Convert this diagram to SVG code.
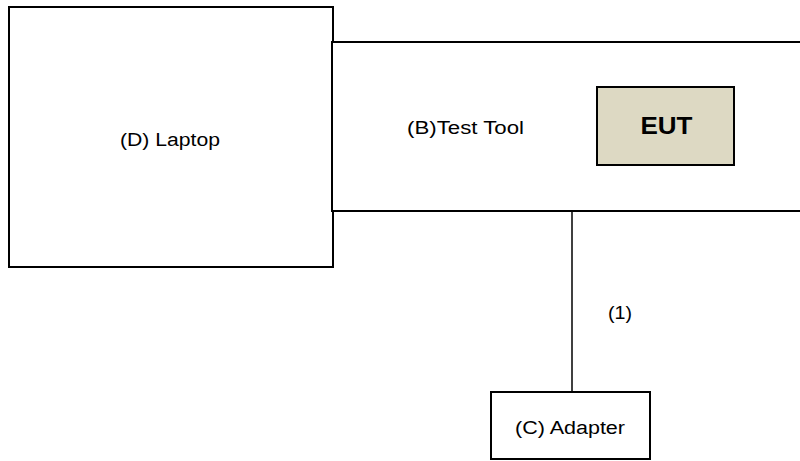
<svg xmlns="http://www.w3.org/2000/svg" width="800" height="461" viewBox="0 0 800 461">
<style>
.box{fill:#fff;stroke:#000;stroke-width:2}
.lbl{font-family:"Liberation Sans",Arial,sans-serif;font-size:18px;fill:#000}
.conn{stroke:#000;stroke-width:1.5;fill:none}
</style>
<rect width="800" height="461" fill="#fff"/>
<g id="laptop">
<rect class="box" x="9" y="7" width="324" height="260"/>
<text class="lbl" x="120" y="146" textLength="100" lengthAdjust="spacingAndGlyphs">(D) Laptop</text>
</g>
<g id="testtool">
<rect class="box" x="332" y="42" width="480" height="169"/>
<text class="lbl" x="407" y="134" textLength="117" lengthAdjust="spacingAndGlyphs">(B)Test Tool</text>
</g>
<g id="eut">
<rect x="597" y="87" width="137" height="78" fill="#DDD9C3" stroke="#000" stroke-width="2"/>
<text x="640.5" y="134" font-family="'Liberation Sans',Arial,sans-serif" font-size="24" font-weight="bold" textLength="52" lengthAdjust="spacingAndGlyphs">EUT</text>
</g>
<g id="connectors">
<line class="conn" x1="572" y1="211" x2="572" y2="392"/>
<text class="lbl" x="608" y="319" textLength="24" lengthAdjust="spacingAndGlyphs">(1)</text>
</g>
<g id="adapter">
<rect class="box" x="491" y="392" width="159" height="67"/>
<text class="lbl" x="515" y="434" textLength="110" lengthAdjust="spacingAndGlyphs">(C) Adapter</text>
</g>
</svg>
